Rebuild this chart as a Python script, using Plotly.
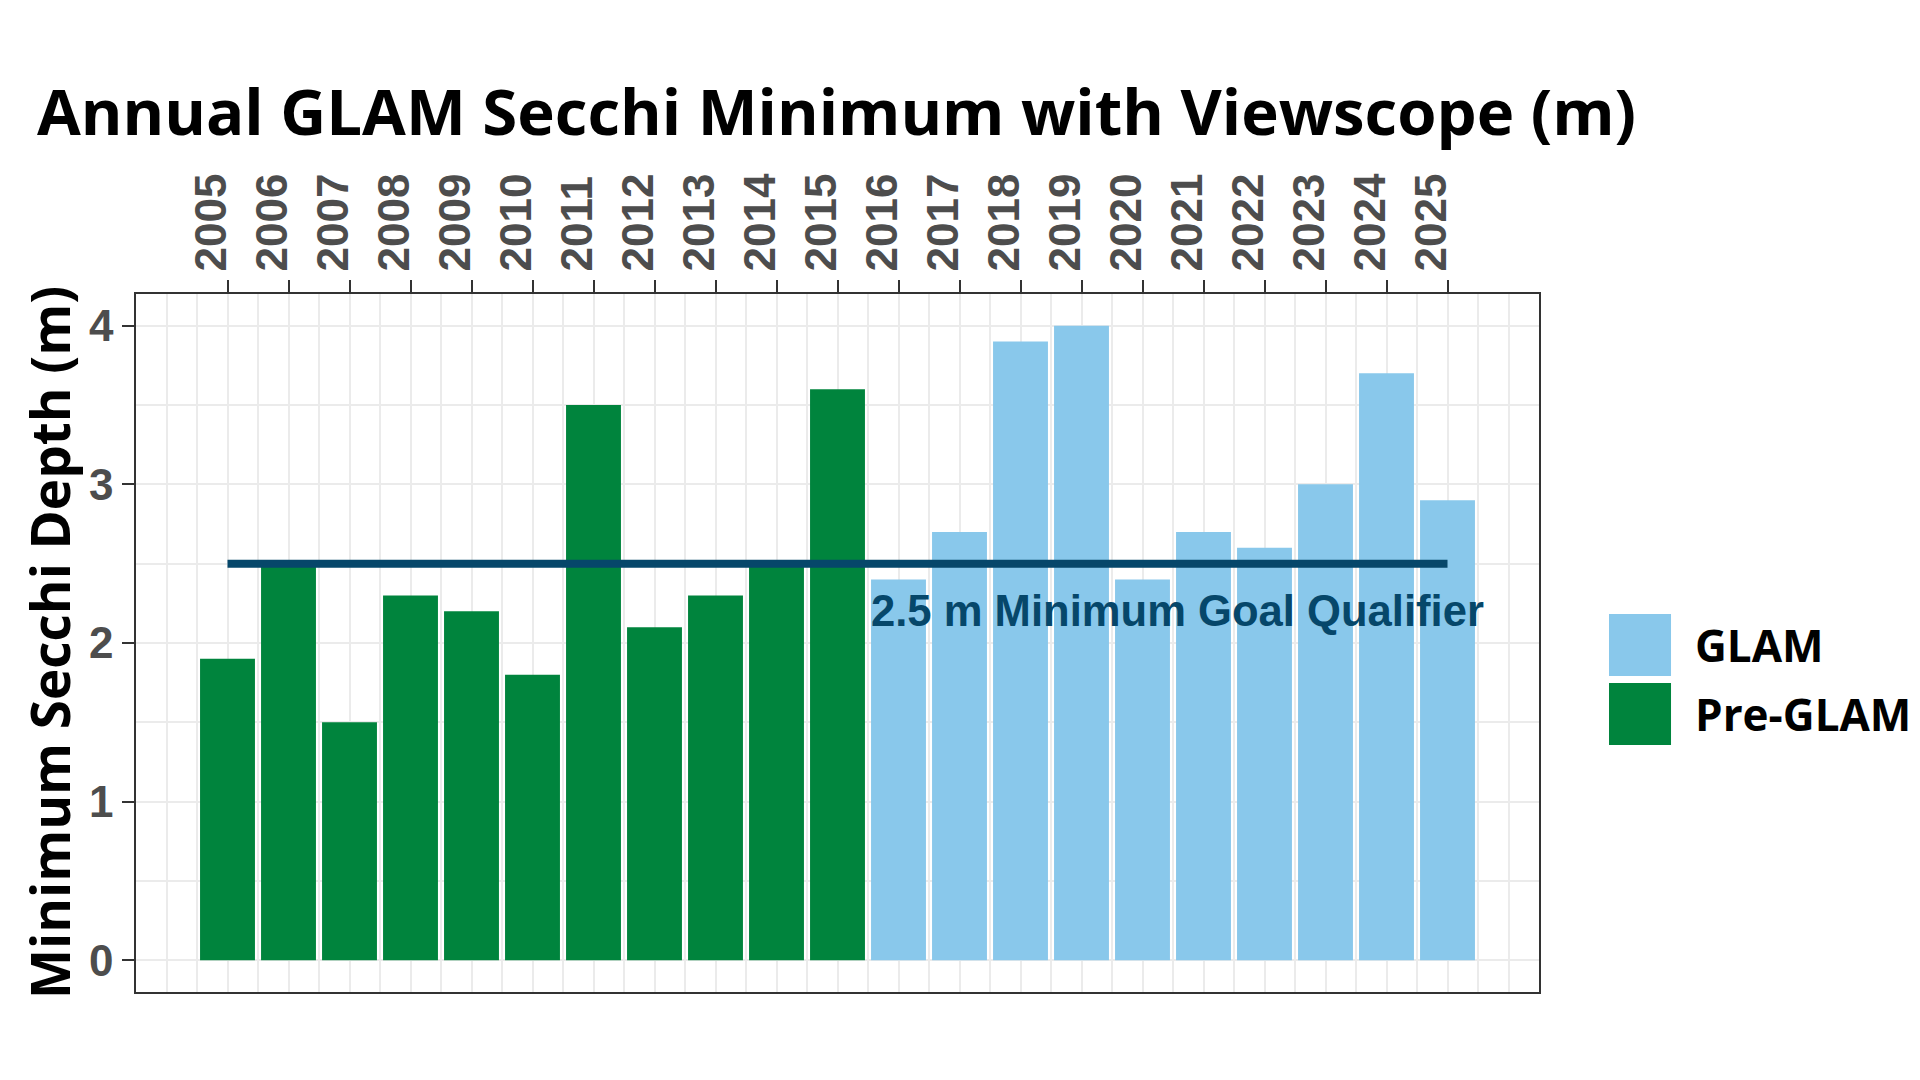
import plotly.graph_objects as go

years_pre = [2005, 2006, 2007, 2008, 2009, 2010, 2011, 2012, 2013, 2014, 2015]
values_pre = [1.9, 2.5, 1.5, 2.3, 2.2, 1.8, 3.5, 2.1, 2.3, 2.5, 3.6]
years_glam = [2016, 2017, 2018, 2019, 2020, 2021, 2022, 2023, 2024, 2025]
values_glam = [2.4, 2.7, 3.9, 4.0, 2.4, 2.7, 2.6, 3.0, 3.7, 2.9]
goal_value = 2.5
goal_x = [2005, 2025]
tick_years = list(range(2005, 2026))
y_ticks = [0, 1, 2, 3, 4]

GREEN = "#00843D"
BLUE = "#89C8EB"
NAVY = "#06476A"
GRAY = "#4D4D4D"
TITLE_FONT = "Open Sans"
TICK_FONT = "Liberation Sans"

fig = go.Figure()
fig.add_trace(go.Bar(x=years_pre, y=values_pre, width=0.9, marker=dict(color=GREEN, line=dict(width=0)),
                     name="Pre-GLAM", showlegend=False))
fig.add_trace(go.Bar(x=years_glam, y=values_glam, width=0.9, marker=dict(color=BLUE, line=dict(width=0)),
                     name="GLAM", showlegend=False))
fig.add_trace(go.Scatter(x=goal_x, y=[goal_value, goal_value], mode="lines",
                         line=dict(color=NAVY, width=8), showlegend=False, hoverinfo="skip"))

fig.add_annotation(x=2020.57, y=2.2, xref="x", yref="y", text="<b>2.5 m Minimum Goal Qualifier</b>",
                   showarrow=False, font=dict(family=TICK_FONT, size=43.6, color=NAVY),
                   xanchor="center", yanchor="middle")

# y axis title
fig.add_annotation(x=-0.062, y=0.5, xref="paper", yref="paper", text="<b>Minimum Secchi Depth (m)</b>",
                   textangle=-90, showarrow=False, font=dict(family=TITLE_FONT, size=53, color="black"),
                   xanchor="center", yanchor="middle")

# custom legend (large keys)
legend_items = [("GLAM", BLUE, 0.5415, 0.4527, 0.497), ("Pre-GLAM", GREEN, 0.4427, 0.3539, 0.398)]
for label, col, y1, y0, ty in legend_items:
    fig.add_shape(type="rect", xref="paper", yref="paper", x0=1.0499, x1=1.0941, y0=y0, y1=y1,
                  fillcolor=col, line=dict(width=0))
    fig.add_annotation(x=(1693 - 136) / 1403, y=ty, xref="paper", yref="paper", text=f"<b>{label}</b>",
                       showarrow=False, xanchor="left", yanchor="middle",
                       font=dict(family=TITLE_FONT, size=44, color="black"))

fig.update_layout(
    width=1920, height=1080,
    margin=dict(l=136, r=381, t=294, b=88),
    paper_bgcolor="white", plot_bgcolor="white",
    barmode="overlay",
    title=dict(text="<b>Annual GLAM Secchi Minimum with Viewscope (m)</b>", xref="container", yref="container",
               x=37/1920, xanchor="left", y=1-113/1080, yanchor="middle",
               font=dict(family=TITLE_FONT, size=63.5, color="black")),
    xaxis=dict(range=[2003.5, 2026.5], side="top", tickmode="array", tickvals=tick_years,
               ticktext=[str(y) for y in tick_years], tickangle=-90,
               tickfont=dict(family=TICK_FONT, size=44, color=GRAY, weight="bold"),
               ticklabelshift=-16,
               ticks="outside", ticklen=12, tickwidth=2, tickcolor="#333333",
               showgrid=True, gridcolor="#EBEBEB", gridwidth=2,
               minor=dict(tick0=2004, dtick=0.5, showgrid=True, gridcolor="#EBEBEB", gridwidth=1.5, ticks=""),
               showline=True, mirror=True, linecolor="#333333", linewidth=1.5, zeroline=False,
               fixedrange=True),
    yaxis=dict(range=[-0.2, 4.2], tickmode="array", tickvals=y_ticks,
               tickfont=dict(family=TICK_FONT, size=44, color=GRAY, weight="bold"),
               ticks="outside", ticklen=12, tickwidth=2, tickcolor="#333333",
               showgrid=True, gridcolor="#EBEBEB", gridwidth=2,
               minor=dict(tick0=0, dtick=0.5, showgrid=True, gridcolor="#EBEBEB", gridwidth=1.5, ticks=""),
               showline=True, mirror=True, linecolor="#333333", linewidth=1.5, zeroline=False,
               fixedrange=True),
)

fig.write_html("out.html")
